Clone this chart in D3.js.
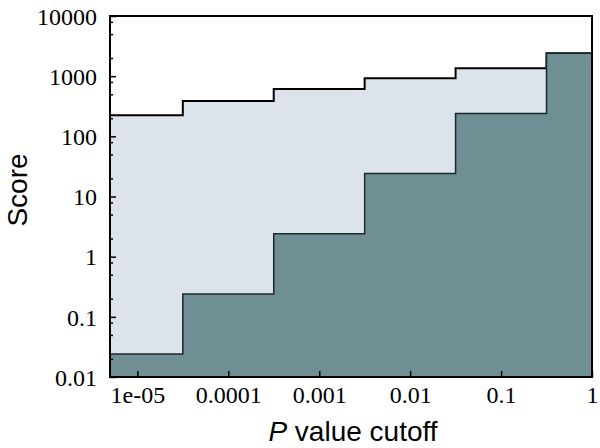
<!DOCTYPE html>
<html>
<head>
<meta charset="utf-8">
<script src="https://cdn.jsdelivr.net/npm/d3@7"></script>
<style>
html, body { margin: 0; padding: 0; background: #fff; }
svg { display: block; }
</style>
</head>
<body>
<svg id="chart" width="600" height="448"></svg>
<script>
// ---- data ----
const binEdges = [5e-6, 3.16e-5, 3.16e-4, 3.16e-3, 3.16e-2, 3.16e-1, 1];
const upperScore = [225, 385, 610, 920, 1350, 2400];
const lowerScore = [0.024, 0.24, 2.4, 24, 240, 2400];
const xTickValues = [1e-5, 1e-4, 1e-3, 1e-2, 1e-1, 1];
const xTickLabels = ["1e-05", "0.0001", "0.001", "0.01", "0.1", "1"];
const yTickValues = [0.01, 0.1, 1, 10, 100, 1000, 10000];
const yTickLabels = ["0.01", "0.1", "1", "10", "100", "1000", "10000"];
const yMinorMultipliers = [2, 5, 8];

// ---- layout ----
const W = 600, H = 448;
const margin = { left: 110, right: 8, top: 16, bottom: 71 };
const svg = d3.select("#chart");

const x = d3.scaleLog().domain([5e-6, 1]).range([margin.left, W - margin.right]);
const y = d3.scaleLog().domain([0.01, 10000]).range([H - margin.bottom, margin.top]);

function stepPoints(vals) {
  const pts = vals.map((v, i) => ({ x: binEdges[i], v: v }));
  pts.push({ x: binEdges[binEdges.length - 1], v: vals[vals.length - 1] });
  return pts;
}

const area = d3.area()
  .curve(d3.curveStepAfter)
  .x(d => x(d.x))
  .y0(y(0.01))
  .y1(d => y(d.v));
const line = d3.line()
  .curve(d3.curveStepAfter)
  .x(d => x(d.x))
  .y(d => y(d.v));

const upper = stepPoints(upperScore);
const lower = stepPoints(lowerScore);

svg.append("path").datum(upper).attr("d", area).attr("fill", "#dde3eb");
svg.append("path").datum(upper).attr("d", line)
  .attr("fill", "none").attr("stroke", "#000").attr("stroke-width", 2);

svg.append("path").datum(lower).attr("d", area).attr("fill", "#708f94");
svg.append("path").datum(lower).attr("d", line)
  .attr("fill", "none").attr("stroke", "#1a2a2c").attr("stroke-width", 1.5);

// ---- axes ----
const yMinor = [];
yTickValues.slice(0, -1).forEach(v => yMinorMultipliers.forEach(m => yMinor.push(v * m)));

const gy = svg.append("g").attr("transform", `translate(${margin.left},0)`);
gy.call(d3.axisRight(y).tickValues(yMinor).tickSize(3).tickFormat(""));
gy.call(g => g.select(".domain").remove());
const gy2 = svg.append("g").attr("transform", `translate(${margin.left},0)`);
gy2.call(d3.axisRight(y).tickValues(yTickValues).tickSize(6).tickFormat(""));
gy2.call(g => g.select(".domain").remove());
svg.selectAll(".tick line").attr("stroke", "#000").attr("stroke-width", 1.5);

const gyl = svg.append("g").attr("transform", `translate(${margin.left},0)`);
gyl.call(d3.axisLeft(y).tickValues(yTickValues).tickSize(0).tickPadding(13)
  .tickFormat((d, i) => yTickLabels[i]));
gyl.select(".domain").remove();
gyl.selectAll("text").attr("font-family", "'Liberation Serif', 'Times New Roman', serif")
  .attr("font-size", 24).attr("fill", "#000").attr("dy", "0.34em");

const gx = svg.append("g").attr("transform", `translate(0,${H - margin.bottom})`);
gx.call(d3.axisTop(x).tickValues(xTickValues).tickSize(6).tickFormat(""));
gx.select(".domain").remove();
gx.selectAll(".tick line").attr("stroke", "#000").attr("stroke-width", 1.5);

const gxl = svg.append("g").attr("transform", `translate(0,${H - margin.bottom})`);
gxl.call(d3.axisBottom(x).tickValues(xTickValues).tickSize(0).tickPadding(9)
  .tickFormat((d, i) => xTickLabels[i]));
gxl.select(".domain").remove();
gxl.selectAll("text").attr("font-family", "'Liberation Serif', 'Times New Roman', serif")
  .attr("font-size", 24).attr("fill", "#000").attr("dy", "0.71em");

// frame
svg.append("rect")
  .attr("x", margin.left).attr("y", margin.top)
  .attr("width", W - margin.left - margin.right)
  .attr("height", H - margin.top - margin.bottom)
  .attr("fill", "none").attr("stroke", "#000").attr("stroke-width", 2);

// titles
const xt = svg.append("text")
  .attr("x", (margin.left + W - margin.right) / 2 + 2)
  .attr("y", 441)
  .attr("text-anchor", "middle")
  .attr("font-family", "'Liberation Sans', Arial, sans-serif")
  .attr("font-size", 28).attr("fill", "#000");
xt.append("tspan").attr("font-style", "italic").text("P");
xt.append("tspan").text(" value cutoff");

svg.append("text")
  .attr("transform", "translate(27,190) rotate(-90)")
  .attr("text-anchor", "middle")
  .attr("font-family", "'Liberation Sans', Arial, sans-serif")
  .attr("font-size", 28).attr("fill", "#000")
  .text("Score");
</script>
</body>
</html>
